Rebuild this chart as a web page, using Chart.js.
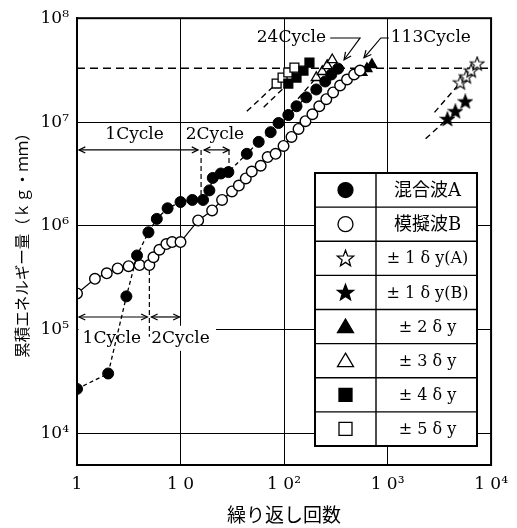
<!DOCTYPE html>
<html>
<head>
<meta charset="utf-8">
<script src="https://cdn.jsdelivr.net/npm/chart.js@4.4.1/dist/chart.umd.min.js"></script>
<style>
  html, body { margin: 0; padding: 0; background: #fff; }
  canvas { display: block; }
</style>
</head>
<body>
<canvas id="chart" width="517" height="528"></canvas>
<script>
// Cumulative energy vs. number of cycles (log-log)

// 混合波A (filled circles)
const cyclesA = [1, 2, 3, 3.8, 4.9, 5.9, 7.5, 10, 13, 16.5, 19, 20.5, 24.5, 29,
    43.7, 56.9, 74.3, 88.5, 110, 132, 164, 205, 250, 286, 333];
const energyA = [2.7e4, 3.8e4, 2.1e5, 5.2e5, 8.7e5, 1.17e6, 1.48e6, 1.7e6, 1.78e6, 1.78e6, 2.2e6, 2.9e6, 3.2e6, 3.3e6,
    4.95e6, 6.45e6, 8.0e6, 9.8e6, 1.17e7, 1.42e7, 1.73e7, 2.06e7, 2.46e7, 2.87e7, 3.27e7];

// 模擬波B (open circles)
const cyclesB = [1, 1.49, 1.94, 2.47, 3.15, 4.02, 5.0, 5.48, 6.25, 7.3, 8.3, 10,
    14.8, 20.2, 25.2, 31.4, 36.6, 42.7, 48.8, 59.5, 69.5, 82.9, 98.9, 118, 138, 161,
    188, 219, 256, 298, 348, 406, 475, 542];
const energyB = [2.24e5, 3.1e5, 3.5e5, 3.9e5, 4.1e5, 4.2e5, 4.2e5, 5.0e5, 5.9e5, 6.7e5, 7.0e5, 7.0e5,
    1.13e6, 1.41e6, 1.78e6, 2.15e6, 2.45e6, 2.87e6, 3.34e6, 3.8e6, 4.6e6, 4.95e6, 5.9e6, 7.2e6, 8.6e6, 1.02e7,
    1.19e7, 1.42e7, 1.66e7, 1.93e7, 2.25e7, 2.57e7, 2.87e7, 3.13e7];

// constant amplitude tests
const cyclesStar1A = [5040, 5760, 6430, 7340];
const energyStar1A = [2.4e7, 2.74e7, 3.13e7, 3.65e7];
const cyclesStar1B = [3785, 4515, 5635];
const energyStar1B = [1.07e7, 1.27e7, 1.58e7];
const cyclesTri2 = [566, 632, 706];
const energyTri2 = [3.0e7, 3.27e7, 3.57e7];
const cyclesTri3 = [205, 234, 261, 292];
const energyTri3 = [2.68e7, 3.06e7, 3.49e7, 3.98e7];
const cyclesSq4 = [110, 132, 154, 176];
const energySq4 = [2.35e7, 2.68e7, 3.13e7, 3.73e7];
const cyclesSq5 = [84.8, 96.8, 110, 126];
const energySq5 = [2.35e7, 2.68e7, 3.0e7, 3.34e7];

// dashed lead-in lines (start point, ends at first marker of the series)
const leadCycles = [2840, 2330, 118, 63.6, 43.7];
const leadEnergy = [1.24e7, 6.9e6, 1.42e7, 1.39e7, 1.27e7];

// horizontal dashed reference level
const limitEnergy = 3.3e7;

// axes
const xTicks = [1, 10, 100, 1000, 10000];
const xTickLabels = ['1', '1 0', '1 0²', '1 0³', '1 0⁴'];
const yTicks = [1e4, 1e5, 1e6, 1e7, 1e8];
const yTickLabels = ['10⁴', '10⁵', '10⁶', '10⁷', '10⁸'];

// annotation anchors (cycles / energy)
const upperArrowCycles = [1, 15.8, 29.4];
const upperArrowEnergy = 5.4e6;
const upperLabelCycles = [3.6, 21.5];
const upperLabelEnergy = 7.5e6;
const upperDropEnergy = [1.78e6, 3.3e6];
const lowerArrowCycles = [1, 5, 10];
const lowerArrowEnergy = 1.33e5;
const lowerLabelCycles = [2.17, 10];
const lowerLabelEnergy = 8.2e4;
const lowerDropEnergy = [4.2e5, 8.6e4];

const SERIF = "'DejaVu Serif', 'Noto Sans CJK JP', serif";
const JP = "'Noto Sans CJK JP', sans-serif";

Chart.defaults.font.family = SERIF;
Chart.defaults.color = '#000';

function pts(xs, ys) {
    return xs.map((x, i) => ({ x: x, y: ys[i] }));
}

function starPath(ctx, cx, cy, R) {
    const r = R * 0.42;
    ctx.beginPath();
    for (let i = 0; i < 10; i++) {
        const rad = i % 2 ? r : R;
        const a = -Math.PI / 2 + i * Math.PI / 5;
        const px = cx + rad * Math.cos(a);
        const py = cy + rad * Math.sin(a);
        if (i === 0) ctx.moveTo(px, py); else ctx.lineTo(px, py);
    }
    ctx.closePath();
}

function makeStar(filled) {
    const c = document.createElement('canvas');
    c.width = 16;
    c.height = 16;
    const g = c.getContext('2d');
    starPath(g, 8, 8.5, 7.2);
    g.fillStyle = filled ? '#000' : '#fff';
    g.fill();
    g.lineWidth = 1.1;
    g.strokeStyle = '#000';
    g.stroke();
    return c;
}

function markerSet(label, xs, ys, style, fill, radius) {
    return {
        label: label,
        legendText: label,
        data: pts(xs, ys),
        showLine: false,
        pointStyle: style,
        pointRadius: radius,
        pointBackgroundColor: fill,
        pointBorderColor: '#000',
        pointBorderWidth: 1.3
    };
}

function leadSet(i, xs, ys) {
    return {
        data: [{ x: leadCycles[i], y: leadEnergy[i] }, { x: xs[0], y: ys[0] }],
        showLine: true,
        borderColor: '#000',
        borderWidth: 1.4,
        borderDash: [6, 4],
        pointRadius: 0
    };
}

const datasets = [
    {
        label: '混合波A', legendText: '混合波A',
        data: pts(cyclesA, energyA),
        showLine: true,
        borderColor: '#000', borderWidth: 1.3, borderDash: [4, 3],
        pointStyle: 'circle', pointRadius: 5.5,
        pointBackgroundColor: '#000', pointBorderColor: '#000', pointBorderWidth: 1
    },
    {
        label: '模擬波B', legendText: '模擬波B',
        data: pts(cyclesB, energyB),
        showLine: true,
        borderColor: '#000', borderWidth: 1.2,
        pointStyle: 'circle', pointRadius: 5.3,
        pointBackgroundColor: '#fff', pointBorderColor: '#000', pointBorderWidth: 1.4
    },
    markerSet('± 1 δ y(A)', cyclesStar1A, energyStar1A, makeStar(false), '#fff', 8),
    markerSet('± 1 δ y(B)', cyclesStar1B, energyStar1B, makeStar(true), '#000', 8),
    markerSet('± 2 δ y', cyclesTri2, energyTri2, 'triangle', '#000', 5.8),
    markerSet('± 3 δ y', cyclesTri3, energyTri3, 'triangle', '#fff', 5.8),
    markerSet('± 4 δ y', cyclesSq4, energySq4, 'rect', '#000', 6.3),
    markerSet('± 5 δ y', cyclesSq5, energySq5, 'rect', '#fff', 6.3),
    leadSet(0, cyclesStar1A, energyStar1A),
    leadSet(1, cyclesStar1B, energyStar1B),
    leadSet(2, cyclesTri3, energyTri3),
    leadSet(3, cyclesSq4, energySq4),
    leadSet(4, cyclesSq5, energySq5),
    {
        data: [{ x: xTicks[0], y: limitEnergy }, { x: xTicks[xTicks.length - 1], y: limitEnergy }],
        showLine: true,
        borderColor: '#000', borderWidth: 1.4, borderDash: [8, 5],
        pointRadius: 0
    }
];

function arrowHead(ctx, x1, y1, x2, y2, len) {
    const a = Math.atan2(y2 - y1, x2 - x1);
    ctx.beginPath();
    ctx.moveTo(x2 - len * Math.cos(a - 0.45), y2 - len * Math.sin(a - 0.45));
    ctx.lineTo(x2, y2);
    ctx.lineTo(x2 - len * Math.cos(a + 0.45), y2 - len * Math.sin(a + 0.45));
    ctx.stroke();
}

function doubleArrow(ctx, x1, x2, y) {
    ctx.beginPath();
    ctx.moveTo(x1, y);
    ctx.lineTo(x2, y);
    ctx.stroke();
    arrowHead(ctx, x2, y, x1, y, 7);
    arrowHead(ctx, x1, y, x2, y, 7);
}

function dashedV(ctx, x, y1, y2) {
    ctx.save();
    ctx.setLineDash([5, 3]);
    ctx.beginPath();
    ctx.moveTo(x, y1);
    ctx.lineTo(x, y2);
    ctx.stroke();
    ctx.restore();
}

function drawSymbol(ctx, ds, x, y) {
    ctx.save();
    ctx.fillStyle = ds.pointBackgroundColor;
    ctx.strokeStyle = '#000';
    ctx.lineWidth = 1.3;
    const s = ds.pointStyle;
    if (typeof s !== 'string') {
        starPath(ctx, x, y + 0.5, 8.5);
    } else if (s === 'circle') {
        ctx.beginPath();
        ctx.arc(x, y, 7.5, 0, Math.PI * 2);
    } else if (s === 'triangle') {
        ctx.beginPath();
        ctx.moveTo(x, y - 7.5);
        ctx.lineTo(x + 8, y + 6);
        ctx.lineTo(x - 8, y + 6);
        ctx.closePath();
    } else {
        ctx.beginPath();
        ctx.rect(x - 6.5, y - 6.5, 13, 13);
    }
    ctx.fill();
    ctx.stroke();
    ctx.restore();
}

const annotate = {
    id: 'annotate',
    beforeDatasetsDraw(chart) {
        const { ctx, scales: { x, y } } = chart;
        // white patch behind the lower cycle labels (hides the 10^5 grid line)
        ctx.save();
        ctx.fillStyle = '#fff';
        const yy = y.getPixelForValue(lowerLabelEnergy);
        const x0 = x.getPixelForValue(1) + 1.5;
        ctx.fillRect(x0, yy - 13, 216 - x0, 25);
        ctx.restore();
    },
    afterDraw(chart) {
        const { ctx, chartArea: area, scales: { x, y } } = chart;
        ctx.save();
        ctx.strokeStyle = '#000';
        ctx.fillStyle = '#000';

        // frame
        ctx.lineWidth = 2;
        ctx.strokeRect(area.left, area.top, area.right - area.left, area.bottom - area.top);

        ctx.lineWidth = 1.2;
        ctx.font = '17px ' + SERIF;
        ctx.textAlign = 'center';
        ctx.textBaseline = 'middle';

        // upper cycle arrows
        const ua = upperArrowCycles.map(v => x.getPixelForValue(v));
        const uy = y.getPixelForValue(upperArrowEnergy);
        doubleArrow(ctx, ua[0] + 2, ua[1] - 3, uy);
        doubleArrow(ctx, ua[1] + 3, ua[2], uy);
        dashedV(ctx, ua[1], uy, y.getPixelForValue(upperDropEnergy[0]) - 5);
        dashedV(ctx, ua[2], uy, y.getPixelForValue(upperDropEnergy[1]) - 5);
        ctx.fillText('1Cycle', x.getPixelForValue(upperLabelCycles[0]), y.getPixelForValue(upperLabelEnergy));
        ctx.fillText('2Cycle', x.getPixelForValue(upperLabelCycles[1]), y.getPixelForValue(upperLabelEnergy));

        // lower cycle arrows
        const la = lowerArrowCycles.map(v => x.getPixelForValue(v));
        const ly = y.getPixelForValue(lowerArrowEnergy);
        doubleArrow(ctx, la[0] + 2, la[1] - 2, ly);
        doubleArrow(ctx, la[1] + 2, la[2] - 1, ly);
        dashedV(ctx, la[1], y.getPixelForValue(lowerDropEnergy[0]) + 5, y.getPixelForValue(lowerDropEnergy[1]));
        ctx.fillText('1Cycle', x.getPixelForValue(lowerLabelCycles[0]), y.getPixelForValue(lowerLabelEnergy));
        ctx.fillText('2Cycle', x.getPixelForValue(lowerLabelCycles[1]), y.getPixelForValue(lowerLabelEnergy));

        // 24Cycle / 113Cycle callouts
        const ty = y.getPixelForValue(6.45e7);
        ctx.textAlign = 'left';
        ctx.fillText('24Cycle', x.getPixelForValue(54.5), ty);
        ctx.beginPath();
        ctx.moveTo(x.getPixelForValue(279), ty);
        ctx.lineTo(x.getPixelForValue(542), ty);
        ctx.lineTo(x.getPixelForValue(380), y.getPixelForValue(3.98e7));
        ctx.stroke();
        arrowHead(ctx, x.getPixelForValue(542), ty, x.getPixelForValue(380), y.getPixelForValue(3.98e7), 8);

        ctx.fillText('113Cycle', x.getPixelForValue(1075), ty);
        ctx.beginPath();
        ctx.moveTo(x.getPixelForValue(1028), ty);
        ctx.lineTo(x.getPixelForValue(861), ty);
        ctx.lineTo(x.getPixelForValue(592), y.getPixelForValue(4.16e7));
        ctx.stroke();
        arrowHead(ctx, x.getPixelForValue(861), ty, x.getPixelForValue(592), y.getPixelForValue(4.16e7), 8);

        // legend table
        const items = chart.data.datasets.filter(d => d.legendText);
        const box = { left: 315, top: 173, right: 477, bottom: 446, split: 376 };
        const rowH = (box.bottom - box.top) / items.length;
        ctx.fillStyle = '#fff';
        ctx.fillRect(box.left, box.top, box.right - box.left, box.bottom - box.top);
        ctx.lineWidth = 1.4;
        for (let i = 1; i < items.length; i++) {
            ctx.beginPath();
            ctx.moveTo(box.left, box.top + rowH * i);
            ctx.lineTo(box.right, box.top + rowH * i);
            ctx.stroke();
        }
        ctx.beginPath();
        ctx.moveTo(box.split, box.top);
        ctx.lineTo(box.split, box.bottom);
        ctx.stroke();
        ctx.lineWidth = 2;
        ctx.strokeRect(box.left, box.top, box.right - box.left, box.bottom - box.top);

        ctx.textAlign = 'center';
        items.forEach((ds, i) => {
            const cy = box.top + rowH * (i + 0.5);
            drawSymbol(ctx, ds, (box.left + box.split) / 2, cy);
            ctx.fillStyle = '#000';
            ctx.font = (i < 2 ? '18px ' : '16px ') + SERIF;
            ctx.fillText(ds.legendText, (box.split + box.right) / 2 + 1, cy + 1);
        });
        ctx.restore();
    }
};

new Chart(document.getElementById('chart'), {
    type: 'scatter',
    data: { datasets: datasets },
    options: {
        responsive: false,
        animation: false,
        devicePixelRatio: 1,
        layout: { padding: { top: 13, right: 23, left: 0, bottom: 0 } },
        plugins: {
            legend: { display: false },
            tooltip: { enabled: false }
        },
        scales: {
            x: {
                type: 'logarithmic',
                min: 1,
                max: 10000,
                afterBuildTicks: s => { s.ticks = xTicks.map(v => ({ value: v })); },
                afterFit: s => { s.height = 63; },
                grid: { color: '#000', lineWidth: 1, drawTicks: false },
                border: { color: '#000', width: 2 },
                ticks: {
                    autoSkip: false,
                    maxRotation: 0,
                    padding: 9,
                    font: { size: 17, family: SERIF },
                    callback: (v, i) => xTickLabels[i]
                },
                title: {
                    display: true,
                    text: '繰り返し回数',
                    font: { size: 19, family: JP },
                    padding: { top: 0, bottom: 2 }
                }
            },
            y: {
                type: 'logarithmic',
                min: 5000,
                max: 1e8,
                afterBuildTicks: s => { s.ticks = yTicks.map(v => ({ value: v })); },
                afterFit: s => { s.width = 77; },
                grid: { color: '#000', lineWidth: 1, drawTicks: false },
                border: { color: '#000', width: 2 },
                ticks: {
                    padding: 8,
                    font: { size: 17, family: SERIF },
                    callback: (v, i) => yTickLabels[i]
                },
                title: {
                    display: true,
                    text: '累積エネルギー量（ｋｇ・ｍｍ）',
                    font: { size: 15.5, family: JP },
                    padding: { top: 13, bottom: 0 }
                }
            }
        }
    },
    plugins: [annotate]
});
</script>
</body>
</html>
